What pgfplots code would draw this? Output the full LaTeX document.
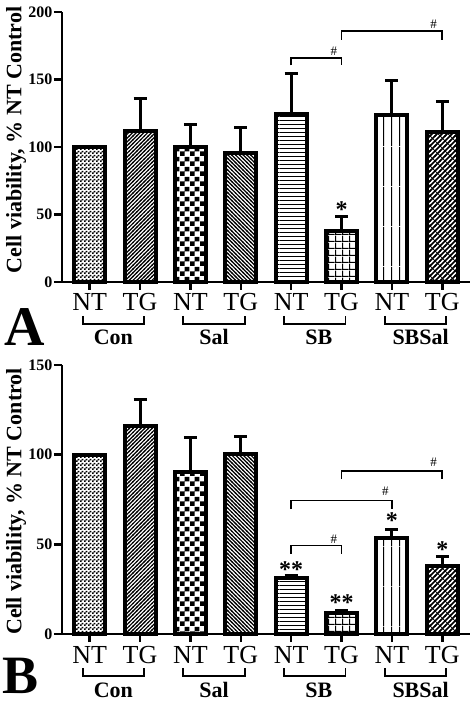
\documentclass[border=0pt]{standalone}
\usepackage{pgfplots}
\pgfplotsset{compat=1.18}
\usepackage{fontspec}
\setmainfont{Liberation Serif}
\usetikzlibrary{patterns}

\pgfdeclarepatternformonly{finecheck}{\pgfpointorigin}{\pgfpoint{4pt}{4pt}}{\pgfpoint{4pt}{4pt}}{%
  \pgfpathrectangle{\pgfpointorigin}{\pgfpoint{2pt}{2pt}}%
  \pgfpathrectangle{\pgfpoint{2pt}{2pt}}{\pgfpoint{2pt}{2pt}}%
  \pgfusepath{fill}}
\pgfdeclarepatternformonly{bigcheck}{\pgfpointorigin}{\pgfpoint{10pt}{10pt}}{\pgfpoint{10pt}{10pt}}{%
  \pgfpathrectangle{\pgfpointorigin}{\pgfpoint{5pt}{5pt}}%
  \pgfpathrectangle{\pgfpoint{5pt}{5pt}}{\pgfpoint{5pt}{5pt}}%
  \pgfusepath{fill}}
\pgfdeclarepatternformonly{nelines}{\pgfpoint{-1pt}{-1pt}}{\pgfpoint{4.8pt}{4.8pt}}{\pgfpoint{3.8pt}{3.8pt}}{%
  \pgfsetlinewidth{1.2pt}%
  \pgfpathmoveto{\pgfpoint{-0.5pt}{-0.5pt}}\pgfpathlineto{\pgfpoint{4.3pt}{4.3pt}}%
  \pgfusepath{stroke}}
\pgfdeclarepatternformonly{nwlines}{\pgfpoint{-1pt}{-1pt}}{\pgfpoint{4.8pt}{4.8pt}}{\pgfpoint{3.8pt}{3.8pt}}{%
  \pgfsetlinewidth{1.2pt}%
  \pgfpathmoveto{\pgfpoint{-0.5pt}{4.3pt}}\pgfpathlineto{\pgfpoint{4.3pt}{-0.5pt}}%
  \pgfusepath{stroke}}
\pgfdeclarepatternformonly{hlines}{\pgfpointorigin}{\pgfpoint{40pt}{4.3pt}}{\pgfpoint{40pt}{4.3pt}}{%
  \pgfpathrectangle{\pgfpointorigin}{\pgfpoint{40pt}{1.1pt}}%
  \pgfusepath{fill}}
\pgfdeclarepatternformonly{vlines}{\pgfpointorigin}{\pgfpoint{7.5pt}{40pt}}{\pgfpoint{7.5pt}{40pt}}{%
  \pgfpathrectangle{\pgfpointorigin}{\pgfpoint{1.1pt}{40pt}}%
  \pgfusepath{fill}}
\pgfdeclarepatternformonly{mygrid}{\pgfpointorigin}{\pgfpoint{6.7pt}{6.7pt}}{\pgfpoint{6.7pt}{6.7pt}}{%
  \pgfpathrectangle{\pgfpointorigin}{\pgfpoint{6.7pt}{1.1pt}}%
  \pgfpathrectangle{\pgfpointorigin}{\pgfpoint{1.1pt}{6.7pt}}%
  \pgfusepath{fill}}
\pgfdeclarepatternformonly{weave}{\pgfpoint{-1pt}{-1pt}}{\pgfpoint{11pt}{11pt}}{\pgfpoint{10pt}{10pt}}{%
  \pgfsetlinewidth{1.5pt}%
  \pgfpathmoveto{\pgfpoint{-1pt}{-1pt}}\pgfpathlineto{\pgfpoint{11pt}{11pt}}%
  \pgfpathmoveto{\pgfpoint{-1pt}{4pt}}\pgfpathlineto{\pgfpoint{6pt}{11pt}}%
  \pgfpathmoveto{\pgfpoint{4pt}{-1pt}}\pgfpathlineto{\pgfpoint{11pt}{6pt}}%
  \pgfusepath{stroke}%
  \pgfsetlinewidth{0.7pt}%
  \pgfpathmoveto{\pgfpoint{-1pt}{11pt}}\pgfpathlineto{\pgfpoint{11pt}{-1pt}}%
  \pgfusepath{stroke}}

\pgfplotsset{
  panel/.style={
    scale only axis, width=408pt,
    xmin=-0.55, xmax=7.55, ymin=0,
    axis x line*=bottom, axis y line*=left,
    axis line style={line width=2.5pt},
    every tick/.style={black, line width=2.5pt},
    tick align=outside,
    xtick={0,...,7},
    xticklabels={NT,TG,NT,TG,NT,TG,NT,TG},
    major tick length=8pt,
    xticklabel style={font=\fontsize{26}{26}\selectfont, anchor=base, yshift=-21pt, inner sep=0pt},
    yticklabel style={font=\fontsize{16}{16}\selectfont\bfseries, inner xsep=1.5pt},
    /pgf/number format/assume math mode=true,
    clip=false,
    ybar, bar width=31pt,
    every axis plot/.append style={draw=black, line width=4pt, bar shift=0pt},
    error bars/y dir=plus, error bars/y explicit,
    error bars/error bar style={line width=3pt, black},
    error bars/error mark options={rotate=90, mark size=6.5pt, line width=3pt, black},
  },
}
\tikzset{grp/.style={font=\fontsize{22}{22}\selectfont\bfseries, anchor=base}}
% group bracket: #1 left end, #2 right end, #3 label position, #4 label
\newcommand{\grpbr}[4]{%
  \draw[line width=1.8pt] ([yshift=-34pt]axis cs:#1,0) -- ([yshift=-42pt]axis cs:#1,0)
     -- ([yshift=-42pt]axis cs:#2,0) -- ([yshift=-34pt]axis cs:#2,0);
  \node[grp] at ([yshift=-63pt]axis cs:#3,0) {#4};}

\begin{document}
\begin{tikzpicture}
\useasboundingbox (0,0) rectangle (474pt,706pt);

% ---------------- Panel A ----------------
\begin{axis}[panel, at={(62pt,424pt)}, anchor=south west, height=270pt,
  ymax=200, ytick={0,50,100,150,200}]
\addplot[pattern=finecheck] coordinates {(0,100)};
\addplot[pattern=nelines] coordinates {(1,112) +- (0,24)};
\addplot[pattern=bigcheck] coordinates {(2,100) +- (0,17)};
\addplot[pattern=nwlines] coordinates {(3,95.5) +- (0,19)};
\addplot[pattern=hlines] coordinates {(4,124.5) +- (0,30)};
\addplot[pattern=mygrid] coordinates {(5,37.5) +- (0,11)};
\addplot[pattern=vlines] coordinates {(6,124) +- (0,25)};
\addplot[pattern=weave] coordinates {(7,111) +- (0,23)};
% significance
\node[font=\fontsize{24}{24}\selectfont\bfseries] at (axis cs:5,54) {*};
\draw[line width=1.6pt] (axis cs:4,160.5) -- (axis cs:4,166) -- (axis cs:5,166) -- (axis cs:5,160.5);
\node[font=\fontsize{13}{13}\selectfont] at (axis cs:4.85,171) {\#};
\draw[line width=1.6pt] (axis cs:5,179.5) -- (axis cs:5,186) -- (axis cs:7,186) -- (axis cs:7,179.5);
\node[font=\fontsize{13}{13}\selectfont] at (axis cs:6.83,191) {\#};
% groups
\grpbr{-0.14}{1.08}{0.47}{Con}
\grpbr{1.86}{3.08}{2.47}{Sal}
\grpbr{3.86}{5.08}{4.55}{SB}
\grpbr{5.86}{7.08}{6.57}{SBSal}
\node[rotate=90, font=\fontsize{22}{22}\selectfont\bfseries] at ([xshift=-46pt,yshift=7pt]axis description cs:0,0.5) {Cell viability, \% NT Control};
\node[font=\fontsize{56}{56}\selectfont\bfseries] at ([xshift=-37pt,yshift=-45pt]axis cs:-0.55,0) {A};
\end{axis}

% ---------------- Panel B ----------------
\begin{axis}[panel, at={(62pt,72pt)}, anchor=south west, height=269pt,
  ymax=150, ytick={0,50,100,150}]
\addplot[pattern=finecheck] coordinates {(0,100)};
\addplot[pattern=nelines] coordinates {(1,115.8) +- (0,15)};
\addplot[pattern=bigcheck] coordinates {(2,90.4) +- (0,19)};
\addplot[pattern=nwlines] coordinates {(3,100.2) +- (0,10)};
\addplot[pattern=hlines] coordinates {(4,31) +- (0,1.5)};
\addplot[pattern=mygrid] coordinates {(5,11.5) +- (0,1.5)};
\addplot[pattern=vlines] coordinates {(6,53.5) +- (0,5)};
\addplot[pattern=weave] coordinates {(7,38) +- (0,5.3)};
% significance
\node[font=\fontsize{24}{24}\selectfont\bfseries] at (axis cs:4,36) {**};
\node[font=\fontsize{24}{24}\selectfont\bfseries] at (axis cs:5,17.5) {**};
\node[font=\fontsize{24}{24}\selectfont\bfseries] at (axis cs:6,63) {*};
\node[font=\fontsize{24}{24}\selectfont\bfseries] at (axis cs:7,47) {*};
\draw[line width=1.6pt] (axis cs:4,44.7) -- (axis cs:4,49.4) -- (axis cs:5,49.4) -- (axis cs:5,44.7);
\node[font=\fontsize{13}{13}\selectfont] at (axis cs:4.85,53) {\#};
\draw[line width=1.6pt] (axis cs:4,69.6) -- (axis cs:4,74.4) -- (axis cs:6,74.4) -- (axis cs:6,69.6);
\node[font=\fontsize{13}{13}\selectfont] at (axis cs:5.87,79.5) {\#};
\draw[line width=1.6pt] (axis cs:5,86.3) -- (axis cs:5,90.8) -- (axis cs:7,90.8) -- (axis cs:7,86.3);
\node[font=\fontsize{13}{13}\selectfont] at (axis cs:6.83,96) {\#};
% groups
\grpbr{-0.14}{1.08}{0.47}{Con}
\grpbr{1.86}{3.08}{2.47}{Sal}
\grpbr{3.86}{5.08}{4.55}{SB}
\grpbr{5.86}{7.08}{6.57}{SBSal}
\node[rotate=90, font=\fontsize{22}{22}\selectfont\bfseries] at ([xshift=-46pt,yshift=-2pt]axis description cs:0,0.5) {Cell viability, \% NT Control};
\node[font=\fontsize{54}{54}\selectfont\bfseries] at ([xshift=-41pt,yshift=-42pt]axis cs:-0.55,0) {B};
\end{axis}
\end{tikzpicture}
\end{document}
